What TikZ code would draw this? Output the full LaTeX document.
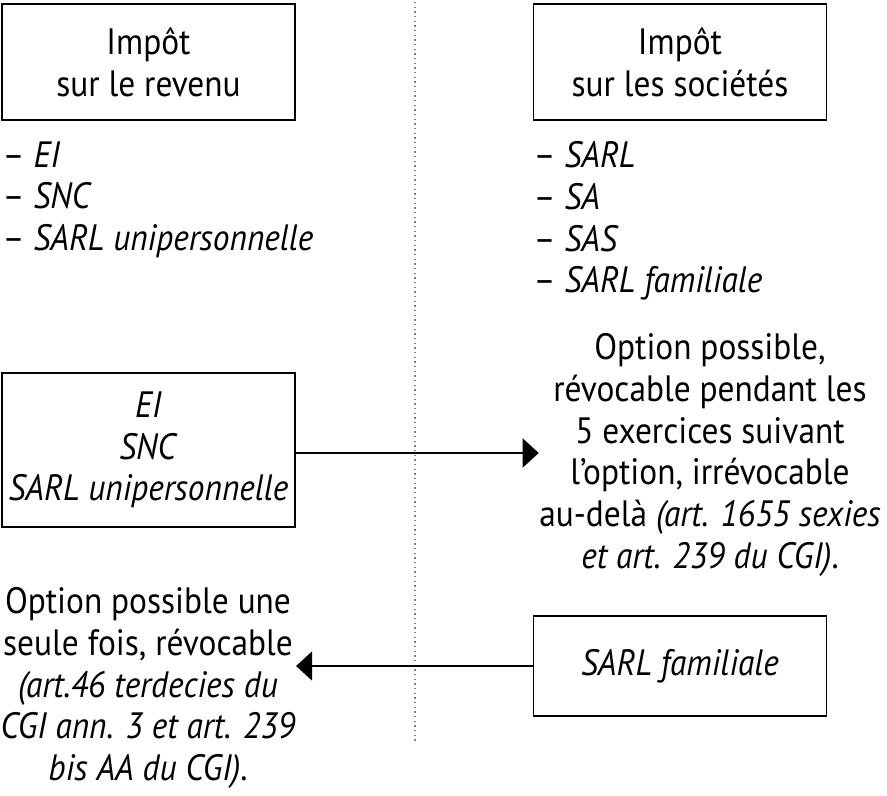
\documentclass[tikz,border=0pt]{standalone}
\usepackage{fontspec}
\setmainfont{PT Sans}[FakeStretch=0.91]
\usetikzlibrary{arrows.meta}
\tikzset{
  regime/.style={draw,line width=0.45pt,minimum width=88pt,minimum height=34.8pt,align=center,inner sep=0pt},
  liste/.style={anchor=north west,align=left,inner sep=0pt},
  option/.style={align=center,inner sep=0pt},
  fleche/.style={line width=0.45pt,-{Triangle[length=4.8pt,width=8.7pt]}},
  every node/.style={font=\fontsize{11}{12.5}\selectfont}
}
\begin{document}
\begin{tikzpicture}[x=0.3pt,y=-0.3pt]
    \useasboundingbox (0,0) rectangle (887,796);
    \coordinate (haut) at (415,2); \coordinate (bas) at (415,742);
    \draw[gray,densely dotted,line width=0.4pt] (haut) -- (bas);

    \node[regime] (IR) at (148.5,62) {Impôt\\sur le revenu};
    \node[regime] (IS) at (680,62) {Impôt\\sur les sociétés};
    \node[liste] (listeIR) at (2,141) {– \textit{EI}\\– \textit{SNC}\\– \textit{SARL unipersonnelle}};
    \node[liste] (listeIS) at (533,141) {– \textit{SARL}\\– \textit{SA}\\– \textit{SAS}\\– \textit{SARL familiale}};

    \node[regime,minimum height=46.2pt] (EI) at (148.5,450) {\textit{EI}\\\textit{SNC}\\\textit{SARL unipersonnelle}};
    \node[option] (optIS) at (710,455) {Option possible,\\révocable pendant les\\5 exercices suivant\\l’option, irrévocable\\au-delà \textit{(art. 1655 sexies}\\\textit{et art. 239 du CGI)}.};
    \draw[fleche] ([yshift=-0.9pt]EI.east) -- ([yshift=-0.9pt]EI.east -| optIS.west);

    \node[regime,minimum height=30pt] (fam) at (680,666) {\textit{SARL familiale}};
    \node[option] (optIR) at (148,688) {Option possible une\\seule fois, révocable\\\textit{(art.46 terdecies du}\\\textit{CGI ann. 3 et art. 239}\\\textit{bis AA du CGI)}.};
    \draw[fleche] (fam.west) -- (fam.west -| optIR.east);
\end{tikzpicture}
\end{document}
